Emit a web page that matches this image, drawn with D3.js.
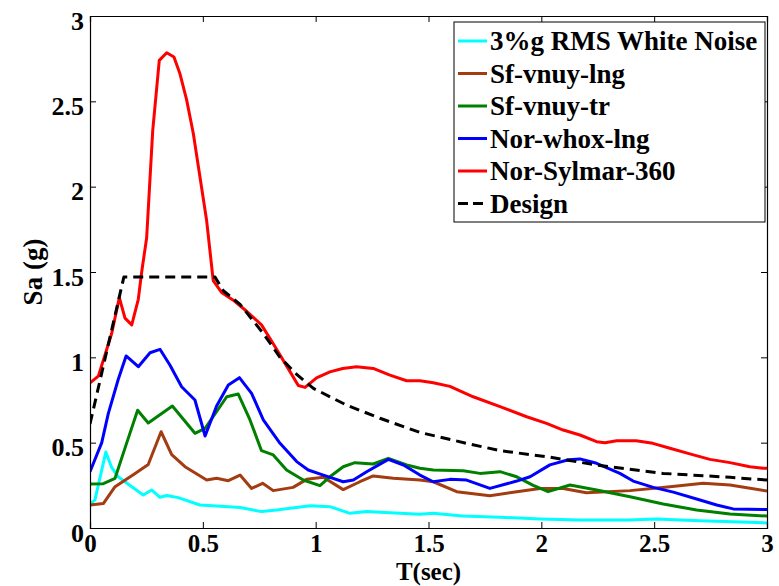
<!DOCTYPE html>
<html>
<head>
<meta charset="utf-8">
<script src="https://cdnjs.cloudflare.com/ajax/libs/d3/7.8.5/d3.min.js"></script>
<style>
html,body{margin:0;padding:0;background:#fff;}
svg{display:block;}
text{font-family:"Liberation Serif","Times New Roman",serif;font-weight:bold;fill:#000;}
</style>
</head>
<body>
<svg id="chart" width="779" height="586"></svg>
<script>
// ---- data ----
const xTicks = [0, 0.5, 1, 1.5, 2, 2.5, 3];
const xTickLabels = ["0", "0.5", "1", "1.5", "2", "2.5", "3"];
const yTicks = [0, 0.5, 1, 1.5, 2, 2.5, 3];
const yTickLabels = ["0", "0.5", "1", "1.5", "2", "2.5", "3"];
const seriesNames = ["3%g RMS White Noise", "Sf-vnuy-lng", "Sf-vnuy-tr", "Nor-whox-lng", "Nor-Sylmar-360", "Design"];
const seriesColors = ["#00ffff", "#a33c10", "#008000", "#0000ff", "#ff0000", "#000000"];

const whiteNoiseT = [0, 0.022, 0.07, 0.096, 0.125, 0.185, 0.236, 0.273, 0.31, 0.34, 0.391, 0.487, 0.561, 0.665, 0.76, 0.827, 0.975, 1.063, 1.152, 1.226, 1.329, 1.462, 1.521, 1.65, 1.817, 1.994, 2.17, 2.39, 2.51, 2.7, 2.85, 3.0];
const whiteNoiseSa = [0.14, 0.165, 0.445, 0.355, 0.30, 0.242, 0.193, 0.223, 0.18, 0.19, 0.178, 0.135, 0.129, 0.12, 0.096, 0.105, 0.131, 0.125, 0.086, 0.096, 0.09, 0.08, 0.086, 0.07, 0.063, 0.053, 0.047, 0.047, 0.053, 0.043, 0.037, 0.03];

const sfLngT = [0, 0.059, 0.111, 0.2, 0.258, 0.315, 0.362, 0.421, 0.517, 0.561, 0.613, 0.665, 0.716, 0.765, 0.812, 0.9, 0.96, 1.034, 1.122, 1.196, 1.255, 1.344, 1.462, 1.521, 1.625, 1.772, 1.891, 1.994, 2.097, 2.2, 2.393, 2.57, 2.717, 2.836, 3.0];
const sfLngSa = [0.135, 0.143, 0.242, 0.32, 0.372, 0.564, 0.43, 0.359, 0.281, 0.291, 0.277, 0.31, 0.232, 0.262, 0.219, 0.238, 0.285, 0.297, 0.225, 0.271, 0.305, 0.291, 0.281, 0.271, 0.213, 0.189, 0.213, 0.232, 0.232, 0.207, 0.219, 0.242, 0.262, 0.252, 0.217];

const sfTrT = [0, 0.059, 0.111, 0.162, 0.211, 0.258, 0.365, 0.465, 0.51, 0.606, 0.657, 0.709, 0.76, 0.812, 0.871, 0.945, 1.019, 1.063, 1.122, 1.174, 1.255, 1.322, 1.403, 1.462, 1.521, 1.654, 1.728, 1.817, 1.891, 1.964, 2.03, 2.127, 2.245, 2.393, 2.54, 2.688, 2.836, 3.0];
const sfTrSa = [0.258, 0.26, 0.291, 0.496, 0.69, 0.615, 0.715, 0.555, 0.584, 0.769, 0.785, 0.633, 0.453, 0.428, 0.34, 0.281, 0.248, 0.30, 0.359, 0.383, 0.375, 0.408, 0.369, 0.35, 0.34, 0.336, 0.32, 0.33, 0.30, 0.25, 0.213, 0.252, 0.223, 0.183, 0.141, 0.105, 0.082, 0.07];

const norWhoxT = [0, 0.052, 0.081, 0.125, 0.16, 0.214, 0.266, 0.31, 0.354, 0.406, 0.465, 0.51, 0.561, 0.613, 0.662, 0.716, 0.768, 0.842, 0.916, 0.967, 1.034, 1.122, 1.167, 1.226, 1.322, 1.389, 1.462, 1.521, 1.595, 1.669, 1.772, 1.891, 1.95, 2.038, 2.12, 2.171, 2.245, 2.348, 2.407, 2.496, 2.585, 2.703, 2.777, 2.85, 3.0];
const norWhoxSa = [0.33, 0.5, 0.67, 0.87, 1.008, 0.945, 1.027, 1.047, 0.955, 0.828, 0.75, 0.539, 0.715, 0.838, 0.881, 0.789, 0.633, 0.496, 0.389, 0.34, 0.31, 0.271, 0.281, 0.33, 0.402, 0.369, 0.31, 0.271, 0.285, 0.281, 0.232, 0.275, 0.30, 0.37, 0.40, 0.405, 0.379, 0.32, 0.275, 0.238, 0.21, 0.164, 0.135, 0.112, 0.108];

const sylmarT = [0, 0.037, 0.096, 0.13, 0.155, 0.185, 0.214, 0.229, 0.251, 0.278, 0.307, 0.34, 0.372, 0.399, 0.428, 0.458, 0.487, 0.517, 0.546, 0.583, 0.64, 0.694, 0.76, 0.812, 0.871, 0.923, 0.953, 1.004, 1.063, 1.12, 1.181, 1.255, 1.329, 1.403, 1.462, 1.521, 1.595, 1.698, 1.817, 1.935, 2.023, 2.097, 2.171, 2.245, 2.282, 2.334, 2.42, 2.494, 2.57, 2.658, 2.747, 2.836, 2.924, 2.983, 3.0];
const sylmarSa = [0.85, 0.89, 1.14, 1.35, 1.23, 1.19, 1.34, 1.50, 1.70, 2.33, 2.74, 2.785, 2.76, 2.66, 2.51, 2.31, 2.06, 1.80, 1.45, 1.38, 1.33, 1.27, 1.19, 1.08, 0.95, 0.835, 0.824, 0.88, 0.915, 0.935, 0.945, 0.935, 0.896, 0.863, 0.863, 0.851, 0.83, 0.769, 0.711, 0.652, 0.613, 0.574, 0.545, 0.506, 0.50, 0.511, 0.511, 0.496, 0.467, 0.434, 0.402, 0.383, 0.359, 0.35, 0.35];

const designT = [0, 0.15, 0.554, 0.591, 0.665, 0.768, 0.842, 0.916, 0.99, 1.137, 1.285, 1.462, 1.669, 1.817, 2.023, 2.245, 2.54, 2.836, 3.0];
const designSa = [0.61, 1.47, 1.47, 1.39, 1.31, 1.14, 1.0, 0.9, 0.818, 0.72, 0.643, 0.56, 0.496, 0.453, 0.418, 0.369, 0.32, 0.297, 0.281];

// ---- layout ----
const svg = d3.select("#chart");
const mLeft = 90, mRight = 767, mTop = 16, mBottom = 528;
const x = d3.scaleLinear().domain([0, 3]).range([mLeft, mRight]);
const y = d3.scaleLinear().domain([0, 3]).range([mBottom, mTop]);

const series = [
  {T: whiteNoiseT, S: whiteNoiseSa},
  {T: sfLngT, S: sfLngSa},
  {T: sfTrT, S: sfTrSa},
  {T: norWhoxT, S: norWhoxSa},
  {T: sylmarT, S: sylmarSa},
  {T: designT, S: designSa}
].map((d, i) => ({
  name: seriesNames[i],
  color: seriesColors[i],
  dashed: i === 5,
  pts: d.T.map((t, j) => [t, d.S[j]])
}));

svg.append("defs").append("clipPath").attr("id", "clip")
  .append("rect").attr("x", mLeft).attr("y", mTop).attr("width", mRight - mLeft).attr("height", mBottom - mTop);

const line = d3.line().x(d => x(d[0])).y(d => y(d[1]));

const g = svg.append("g").attr("clip-path", "url(#clip)");
series.forEach(s => {
  g.append("path").datum(s.pts)
    .attr("d", line)
    .attr("fill", "none")
    .attr("stroke", s.color)
    .attr("stroke-width", 3)
    .attr("stroke-linejoin", "round")
    .attr("stroke-dasharray", s.dashed ? "10,6" : null);
});

// axes (MATLAB box style, inward ticks)
const tickLen = 6;
const axB = svg.append("g").attr("transform", `translate(0,${mBottom})`)
  .call(d3.axisBottom(x).tickValues(xTicks).tickSize(-tickLen).tickPadding(10)
    .tickFormat((d, i) => xTickLabels[i]));
const axT = svg.append("g").attr("transform", `translate(0,${mTop})`)
  .call(d3.axisTop(x).tickValues(xTicks).tickSize(-tickLen).tickFormat(""));
const axL = svg.append("g").attr("transform", `translate(${mLeft},0)`)
  .call(d3.axisLeft(y).tickValues(yTicks).tickSize(-tickLen).tickPadding(6)
    .tickFormat((d, i) => yTickLabels[i]));
const axR = svg.append("g").attr("transform", `translate(${mRight},0)`)
  .call(d3.axisRight(y).tickValues(yTicks).tickSize(-tickLen).tickFormat(""));

[axB, axT, axL, axR].forEach(a => {
  a.select(".domain").attr("stroke", "#000").attr("stroke-width", 1.2);
  a.selectAll(".tick line").attr("stroke", "#000").attr("stroke-width", 1);
  a.selectAll("text").attr("font-family", "Liberation Serif, serif").attr("font-weight", "bold")
    .attr("font-size", 26).attr("fill", "#000");
});
axB.selectAll(".tick text").attr("font-size", 25).attr("dy", "0.55em");
axL.selectAll(".tick text").attr("dy", "0.5em");

// axis titles
svg.append("text").attr("x", (mLeft + mRight) / 2).attr("y", 580)
  .attr("text-anchor", "middle").attr("font-size", 25).text("T(sec)");
svg.append("text").attr("transform", `translate(42,${(mTop + mBottom) / 2}) rotate(-90)`)
  .attr("text-anchor", "middle").attr("font-size", 27).text("Sa (g)");

// legend
const lg = svg.append("g");
lg.append("rect").attr("x", 454).attr("y", 22).attr("width", 311).attr("height", 200)
  .attr("fill", "#fff").attr("stroke", "#000").attr("stroke-width", 1);
series.forEach((s, i) => {
  const yy = 41 + i * 32.5;
  lg.append("line").attr("x1", 458).attr("x2", 487).attr("y1", yy).attr("y2", yy)
    .attr("stroke", s.color).attr("stroke-width", 3)
    .attr("stroke-dasharray", s.dashed ? "10,5" : null);
  lg.append("text").attr("x", 490).attr("y", yy).attr("dy", "0.35em")
    .attr("font-size", 27).text(s.name);
});
</script>
</body>
</html>
